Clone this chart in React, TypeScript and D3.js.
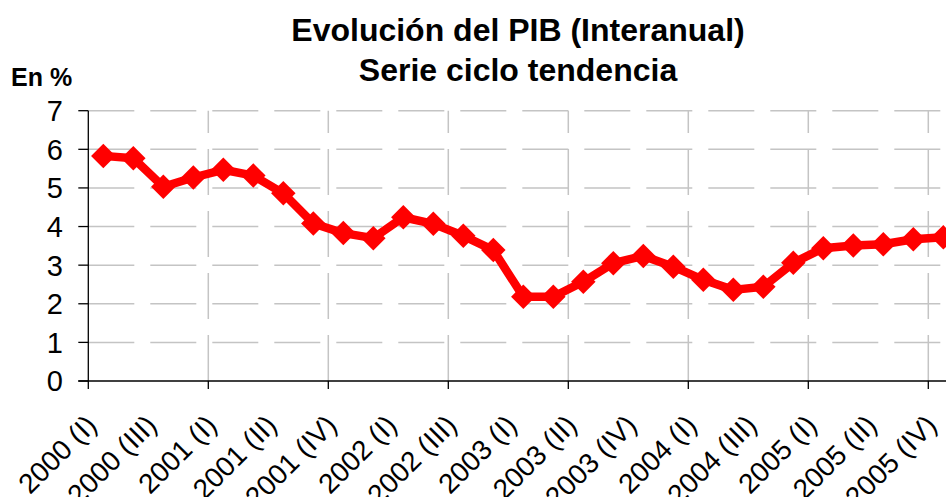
import { useEffect, useRef } from 'react'
import * as d3 from 'd3'

// interannual GDP, trend-cycle series
const pibValues = [
	5.83, 5.77, 5.03, 5.27, 5.47, 5.32, 4.86, 4.08, 3.83, 3.7, 4.24, 4.07, 3.76,
	3.39, 2.18, 2.18, 2.57, 3.05, 3.24, 2.96, 2.62, 2.36, 2.44, 3.06, 3.44, 3.51,
	3.54, 3.67, 3.72,
]

// one label every two quarters, as printed in the original
const tickLabels = [
	'2000 (I)',
	'2000 (III)',
	'2001 (I)',
	'2001 (II)',
	'2001 (IV)',
	'2002 (I)',
	'2002 (III)',
	'2003 (I)',
	'2003 (II)',
	'2003 (IV)',
	'2004 (I)',
	'2004 (III)',
	'2005 (I)',
	'2005 (II)',
	'2005 (IV)',
]

const yTicks = [0, 1, 2, 3, 4, 5, 6, 7]

const width = 946
const height = 497
const margins = { top: 110.7, left: 88.3, bottom: 381 }
const font = '"Liberation Sans", Arial, sans-serif'

export default function App() {
	const ref = useRef<SVGSVGElement>(null)

	useEffect(() => {
		const svg = d3.select(ref.current)
		svg.selectAll('*').remove()

		const x = d3
			.scaleBand<number>()
			.domain(d3.range(pibValues.length))
			.range([margins.left, margins.left + 30 * pibValues.length])
			.padding(0)
		const y = d3.scaleLinear().domain([0, 7]).range([margins.bottom, margins.top])
		const cx = (i: number) => (x(i) as number) + x.bandwidth() / 2
		const right = width + 20

		// horizontal grid
		svg
			.append('g')
			.selectAll('line')
			.data(yTicks.filter((d) => d > 0))
			.enter()
			.append('line')
			.attr('x1', margins.left)
			.attr('x2', right)
			.attr('y1', (d) => y(d))
			.attr('y2', (d) => y(d))
			.attr('stroke', '#c4c4c4')
			.attr('stroke-width', 1.5)
			.attr('stroke-dasharray', '46,16')

		// vertical grid every four quarters
		const gridIdx = d3.range(4, pibValues.length, 4)
		svg
			.append('g')
			.selectAll('line')
			.data(gridIdx)
			.enter()
			.append('line')
			.attr('x1', (d) => x(d) as number)
			.attr('x2', (d) => x(d) as number)
			.attr('y1', margins.bottom)
			.attr('y2', margins.top)
			.attr('stroke', '#c4c4c4')
			.attr('stroke-width', 1.5)
			.attr('stroke-dasharray', '46,16')

		// axes
		svg
			.append('line')
			.attr('x1', margins.left)
			.attr('x2', margins.left)
			.attr('y1', margins.top)
			.attr('y2', margins.bottom)
			.attr('stroke', 'black')
			.attr('stroke-width', 1.3)
		svg
			.append('line')
			.attr('x1', margins.left - 10)
			.attr('x2', right)
			.attr('y1', margins.bottom)
			.attr('y2', margins.bottom)
			.attr('stroke', 'black')
			.attr('stroke-width', 1.3)

		const yAxis = svg.append('g')
		yAxis
			.selectAll('line')
			.data(yTicks)
			.enter()
			.append('line')
			.attr('x1', margins.left - 10)
			.attr('x2', margins.left)
			.attr('y1', (d) => y(d))
			.attr('y2', (d) => y(d))
			.attr('stroke', 'black')
			.attr('stroke-width', 1.3)
		yAxis
			.selectAll('text')
			.data(yTicks)
			.enter()
			.append('text')
			.attr('x', 63)
			.attr('y', (d) => y(d))
			.attr('dy', '0.36em')
			.style('text-anchor', 'end')
			.style('font', `29px ${font}`)
			.text((d) => d)

		svg
			.append('g')
			.selectAll('line')
			.data([0, ...gridIdx])
			.enter()
			.append('line')
			.attr('x1', (d) => x(d) as number)
			.attr('x2', (d) => x(d) as number)
			.attr('y1', margins.bottom)
			.attr('y2', margins.bottom + 8)
			.attr('stroke', 'black')
			.attr('stroke-width', 1.3)

		svg
			.append('g')
			.selectAll('text')
			.data(tickLabels)
			.enter()
			.append('text')
			.attr(
				'transform',
				(_d, i) => 'translate(' + (cx(i * 2) - 5) + ',427) rotate(-45)'
			)
			.style('text-anchor', 'end')
			.style('font', `28px ${font}`)
			.text((d) => d)

		// series
		const line = d3
			.line<number>()
			.x((_d, i) => cx(i))
			.y((d) => y(d))
		svg
			.append('path')
			.datum(pibValues)
			.attr('d', line)
			.attr('fill', 'none')
			.attr('stroke', '#ff0000')
			.attr('stroke-width', 8.5)
			.attr('stroke-linejoin', 'round')

		const diamond = d3.symbol().type(d3.symbolSquare).size(300)
		svg
			.append('g')
			.selectAll('path')
			.data(pibValues)
			.enter()
			.append('path')
			.attr('d', diamond)
			.attr(
				'transform',
				(d, i) => 'translate(' + cx(i) + ',' + y(d) + ') rotate(45)'
			)
			.attr('fill', '#ff0000')

		// titles
		svg
			.append('text')
			.attr('x', 518)
			.attr('y', 41)
			.style('text-anchor', 'middle')
			.style('font', `bold 32px ${font}`)
			.text('Evolución del PIB (Interanual)')
		svg
			.append('text')
			.attr('x', 518)
			.attr('y', 81)
			.style('text-anchor', 'middle')
			.style('font', `bold 32px ${font}`)
			.text('Serie ciclo tendencia')
		svg
			.append('text')
			.attr('x', 11)
			.attr('y', 86)
			.style('font', `bold 25px ${font}`)
			.text('En %')
	}, [])

	return (
		<svg
			ref={ref}
			width={width}
			height={height}
			style={{ position: 'absolute', left: 0, top: 0, background: 'white' }}
		/>
	)
}
